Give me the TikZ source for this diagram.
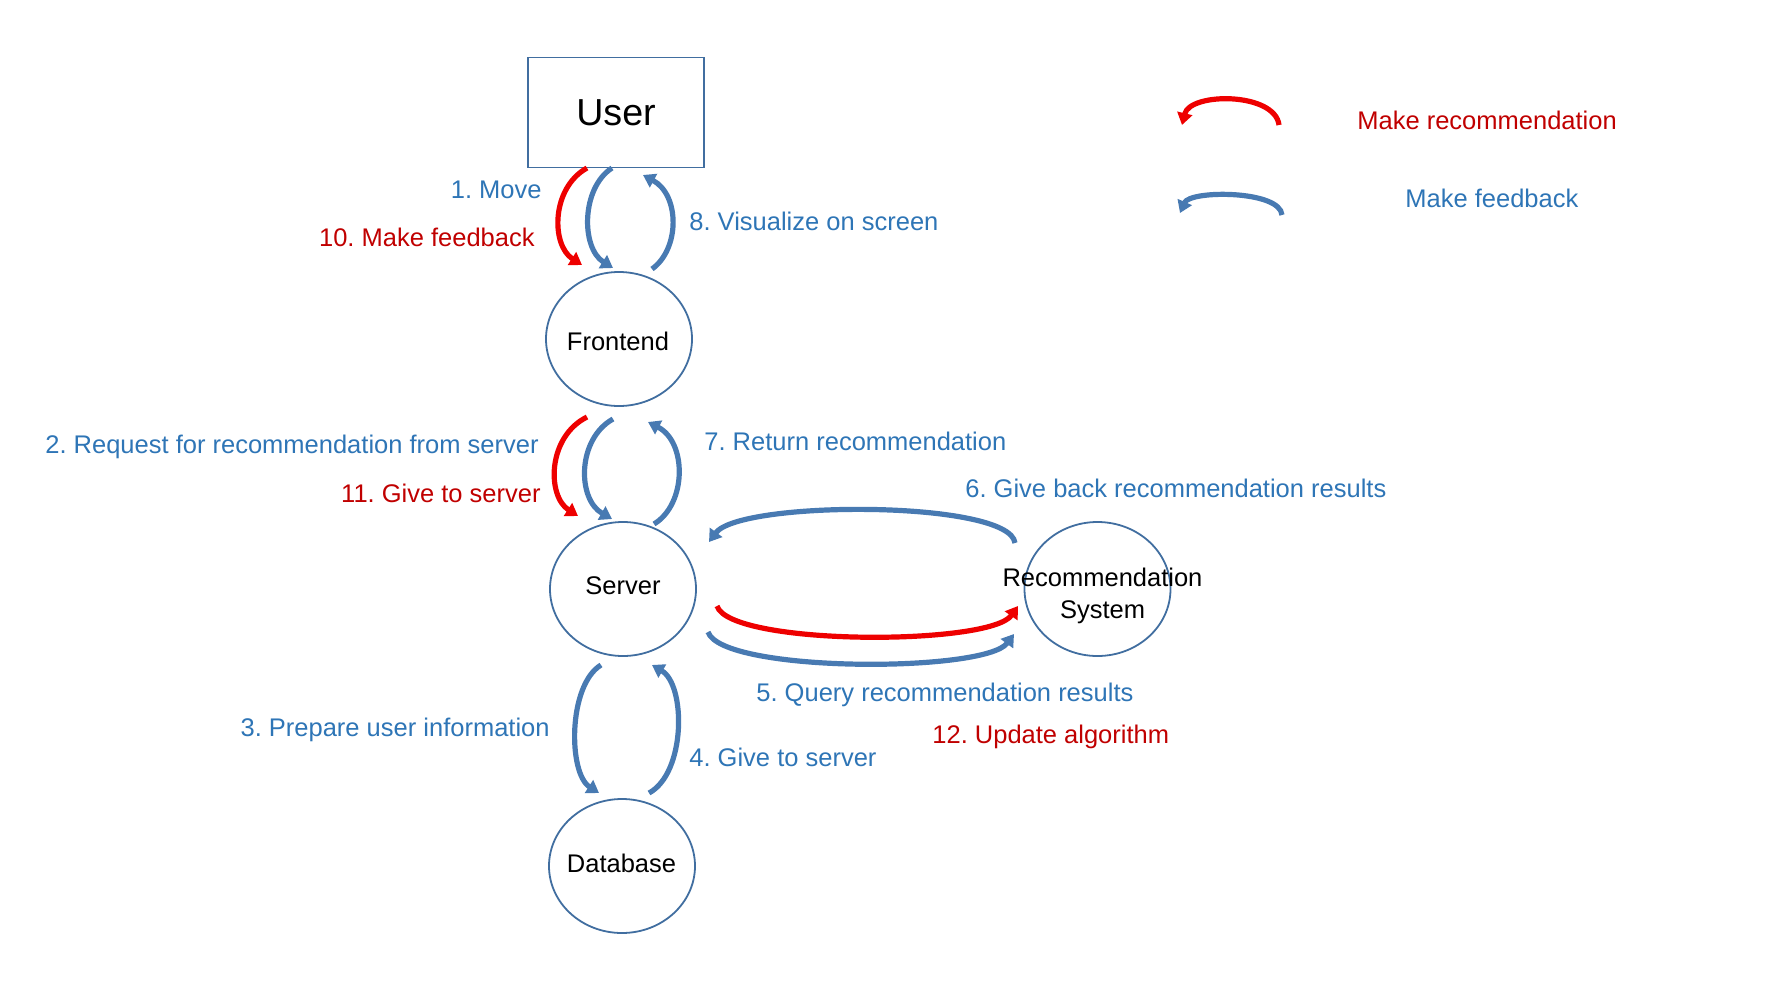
\documentclass[tikz,border=0pt]{standalone}
\usepackage{fontspec}
\setmainfont{Liberation Sans}
\usetikzlibrary{arrows.meta,shapes.geometric}
\definecolor{txtblue}{RGB}{46,117,182}
\definecolor{txtred}{RGB}{192,0,0}
\definecolor{arrblue}{RGB}{72,122,178}
\definecolor{arrred}{RGB}{238,0,0}
\definecolor{edgec}{RGB}{65,110,160}
\frenchspacing
\begin{document}
\begin{tikzpicture}[x=0.5pt,y=-0.5pt,
  ell/.style={draw=edgec, line width=0.9pt, ellipse, minimum width=73pt, minimum height=67pt, inner sep=0pt, inner xsep=-6pt, font=\fontsize{12.75}{15}\selectfont},
  lbl/.style={font=\fontsize{12.75}{15}\selectfont, inner sep=0pt},
  blbl/.style={lbl, text=txtblue},
  rlbl/.style={lbl, text=txtred},
  barr/.style={draw=arrblue, line width=2.6pt, -{Triangle[width=7.5pt,length=6pt]}},
  rarr/.style={draw=arrred, line width=2.6pt, -{Triangle[width=7.5pt,length=6pt]}}
]
\useasboundingbox (0,0) rectangle (1777,991);

% nodes
\node[draw=edgec, line width=0.9pt, minimum width=88pt, minimum height=55pt, inner sep=0pt, font=\fontsize{18.8}{22}\selectfont] (usr) at (616,112.5) {User};
\node[ell] (fe) at (619,339) {};
\node[lbl] (fet) at (618,341.5) {Frontend};
\node[ell] (srv) at (623,589) {};
\node[lbl] (srvt) at (623,585.5) {Server};
\node[ell] (rs) at (1097.5,589) {};
\node[lbl, align=center] (rst) at (1102.5,596) {Recommendation\\[1pt]System};
\node[ell] (db) at (622,866) {};
\node[lbl] (dbt) at (621.5,863.5) {Database};

% labels
\node[blbl, anchor=base east] (l1) at (542,198) {1. Move};
\node[rlbl, anchor=base east] (l10) at (535,246) {10. Make feedback};
\node[blbl, anchor=base west] (l8) at (689,230) {8. Visualize on screen};
\node[blbl, anchor=base east] (l2) at (539,453) {2. Request for recommendation from server};
\node[rlbl, anchor=base east] (l11) at (541,502) {11. Give to server};
\node[blbl, anchor=base west] (l7) at (704,450) {7. Return recommendation};
\node[blbl, anchor=base west] (l6) at (965,497) {6. Give back recommendation results};
\node[blbl, anchor=base west] (l5) at (756,701) {5. Query recommendation results};
\node[rlbl, anchor=base west] (l12) at (932,743) {12. Update algorithm};
\node[blbl, anchor=base east] (l3) at (550,736) {3. Prepare user information};
\node[blbl, anchor=base west] (l4) at (689,766) {4. Give to server};
\node[rlbl, anchor=base west] (lg1) at (1357,129) {Make recommendation};
\node[blbl, anchor=base west] (lg2) at (1405,207) {Make feedback};

% arrow end points
\coordinate (ufr1) at (587,168);  \coordinate (ufr2) at (582,265);
\coordinate (ufb1) at (612,168);  \coordinate (ufb2) at (613,268);
\coordinate (fub1) at (652,269);  \coordinate (fub2) at (643,175);
\coordinate (fsr1) at (587,417);  \coordinate (fsr2) at (578,516);
\coordinate (fsb1) at (613,419);  \coordinate (fsb2) at (612,519);
\coordinate (sfb1) at (654,524);  \coordinate (sfb2) at (648,422);
\coordinate (sdb1) at (601,665);  \coordinate (sdb2) at (599,793);
\coordinate (dsb1) at (649,793);  \coordinate (dsb2) at (652,665);
\coordinate (rsb1) at (1015,543); \coordinate (rsb2) at (709,542);
\coordinate (srr1) at (717,606);  \coordinate (srr2) at (1018,606);
\coordinate (srb1) at (708,632);  \coordinate (srb2) at (1014,634);
\coordinate (lgr1) at (1279,125); \coordinate (lgr2) at (1182,125);
\coordinate (lgb1) at (1282,215); \coordinate (lgb2) at (1180,213);

% arrows user-frontend
\draw[rarr] (ufr1) .. controls (551,188) and (551,245) .. (ufr2);
\draw[barr] (ufb1) .. controls (581,188) and (581,248) .. (ufb2);
\draw[barr] (fub1) .. controls (680,249) and (680,195) .. (fub2);
% frontend-server
\draw[rarr] (fsr1) .. controls (547,437) and (547,496) .. (fsr2);
\draw[barr] (fsb1) .. controls (577,439) and (577,499) .. (fsb2);
\draw[barr] (sfb1) .. controls (687,504) and (687,442) .. (sfb2);
% server-database
\draw[barr] (sdb1) .. controls (568,685) and (568,773) .. (sdb2);
\draw[barr] (dsb1) .. controls (686,773) and (686,685) .. (dsb2);
% server-recommendation system
\draw[barr] (rsb1) .. controls (1010,500) and (740,500) .. (rsb2);
\draw[rarr] (srr1) .. controls (730,646) and (990,646) .. (srr2);
\draw[barr] (srb1) .. controls (722,673) and (985,673) .. (srb2);
% legend
\draw[rarr] (lgr1) .. controls (1275,92) and (1190,92) .. (lgr2);
\draw[barr] (lgb1) .. controls (1280,190) and (1190,190) .. (lgb2);
\end{tikzpicture}
\end{document}
